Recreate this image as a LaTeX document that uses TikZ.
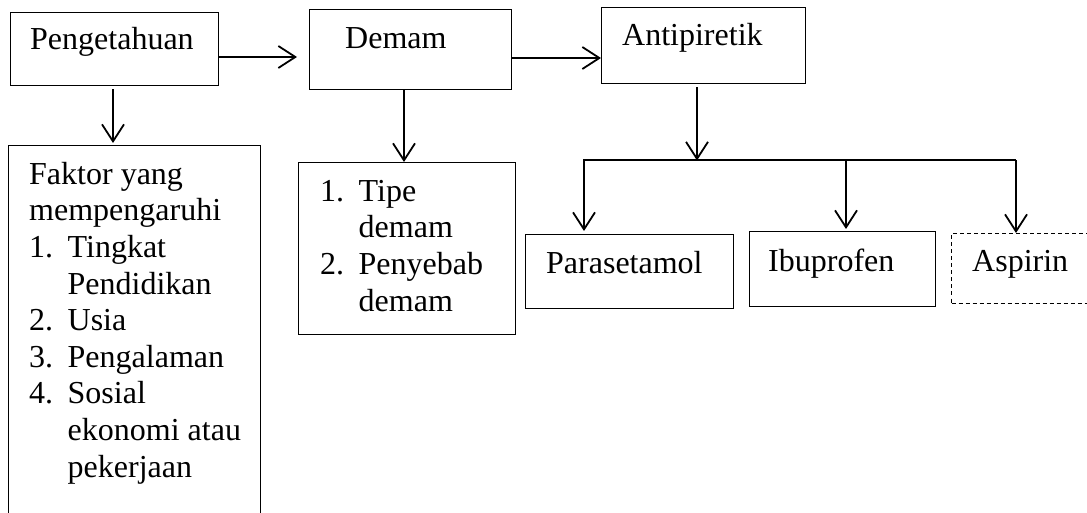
\documentclass[tikz,border=0pt]{standalone}
\usepackage{fontspec}
\setmainfont{Liberation Serif}
\usetikzlibrary{arrows.meta}
\newcommand{\itm}[1]{\makebox[38.5pt][l]{#1}}
\newcommand{\ind}{\hspace*{38.5pt}}
\begin{document}
\begin{tikzpicture}[x=1pt,y=-1pt,
  box/.style={draw, line width=1.2pt, inner sep=0pt, anchor=north west},
  dbox/.style={box, line width=1pt, dashed, dash pattern=on 4pt off 3pt},
  txt/.style={inner sep=0pt, anchor=base west, align=left,
    font=\fontsize{32}{36.6}\selectfont},
  arr/.style={line width=2pt, -{Straight Barb[length=17pt,width=22pt,line width=1.8pt]}},
  ln/.style={line width=2pt}]
\useasboundingbox (0,0) rectangle (1087,513);
% boxes
\node[box, minimum width=208pt, minimum height=73pt] (peng) at (10,12) {};
\node[box, minimum width=202pt, minimum height=80pt] (demam) at (309,9) {};
\node[box, minimum width=204pt, minimum height=76pt] (anti) at (601,7) {};
\node[box, minimum width=252pt, minimum height=400pt] (faktor) at (8,145) {};
\node[box, minimum width=217pt, minimum height=172pt] (tipe) at (298,162) {};
\node[box, minimum width=208pt, minimum height=74pt] (para) at (525,234) {};
\node[box, minimum width=186pt, minimum height=75pt] (ibu) at (749,231) {};
\node[dbox, minimum width=160pt, minimum height=70pt] (asp) at (951,233) {};
% texts
\node[txt] (tpeng) at (30,50) {Pengetahuan};
\node[txt] (tdemam) at (345,49) {Demam};
\node[txt] (tanti) at (622,46) {Antipiretik};
\node[txt] (tpara) at (546,273) {Parasetamol};
\node[txt] (tibu) at (768,272) {Ibuprofen};
\node[txt] (tasp) at (972,272) {Aspirin};
\node[txt] (ttipe) at (320,311) {\itm{1.}Tipe\\\ind demam\\\itm{2.}Penyebab\\\ind demam};
\node[txt] (tfaktor) at (29,477) {Faktor yang\\mempengaruhi\\\itm{1.}Tingkat\\\ind Pendidikan\\\itm{2.}Usia\\\itm{3.}Pengalaman\\\itm{4.}Sosial\\\ind ekonomi atau\\\ind pekerjaan};
% connectors
\draw[arr, shorten >=12pt] (peng.east |- 0,57) -- (demam.west |- 0,57);
\draw[arr] (demam.east |- 0,58) -- (anti.west |- 0,58);
\draw[arr, shorten <=3pt, shorten >=2pt] (peng.south -| 113,0) -- (faktor.north -| 113,0);
\draw[arr] (demam.south -| 404,0) -- (tipe.north -| 404,0);
\coordinate (j) at (697,160.5);
\draw[arr, shorten <=3pt] (anti.south -| j) -- (j);
\coordinate (jl) at (583,160.5);
\coordinate (jr) at (1016,160.5);
\draw[ln] (jl) -- (jr);
\draw[arr, shorten >=3pt] (584,160.5) -- (para.north -| 584,0);
\draw[arr, shorten >=2pt] (846,160.5) -- (ibu.north -| 846,0);
\draw[arr] (jr) -- (asp.north -| jr);
\end{tikzpicture}
\end{document}
